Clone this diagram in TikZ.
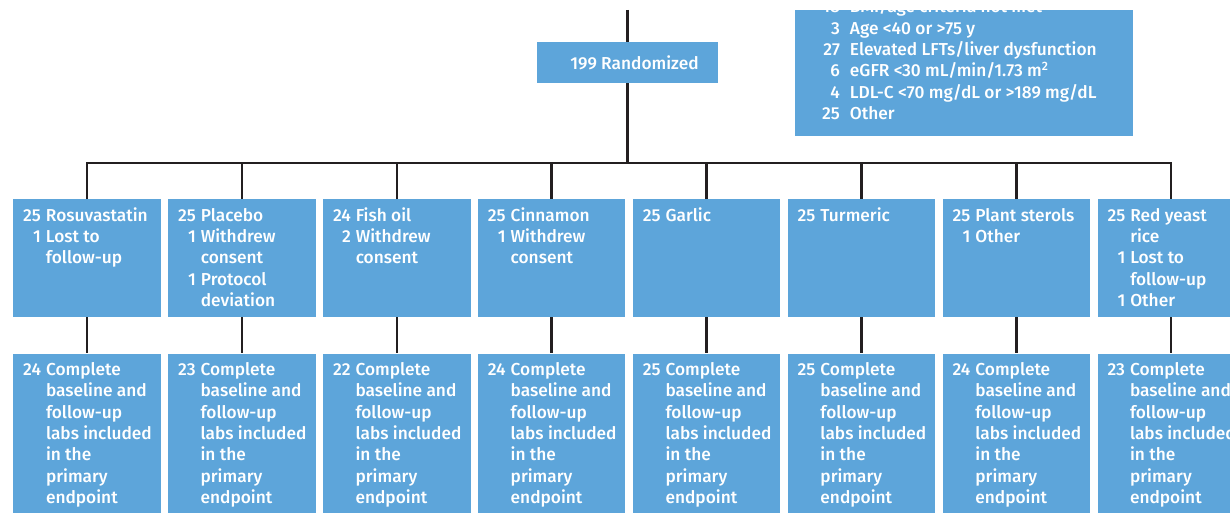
\documentclass[tikz,border=0pt]{standalone}
\usepackage{fontspec}
\setmainfont{Fira Sans}[UprightFont=* Medium]
\usetikzlibrary{positioning}
\definecolor{consortblue}{RGB}{93,165,218}
\definecolor{linegrey}{RGB}{35,31,32}
\newcommand{\armlist}[1]{\makebox[127.5pt][l]{\begin{tabular}[t]{@{}r@{\hspace{5pt}}l@{}}#1\end{tabular}}}

\begin{document}
\begin{tikzpicture}[
    x=1pt, y=-1pt,
    font=\fontsize{17.3}{21.3}\selectfont,
    box/.style={rectangle, fill=consortblue, text=white, inner sep=0pt},
    arm/.style={box, minimum width=147.5pt, inner xsep=10pt, inner ysep=7.1pt,
                text height=14.9pt, text depth=88.9pt},
    result/.style={arm, text depth=150pt},
    link/.style={line width=2.4pt, draw=linegrey},
    node distance=7pt
]
\useasboundingbox (0,0) rectangle (1230,513);
\clip (0,0) rectangle (1230,513);

% Randomization and exclusions
\coordinate (enroll) at (627.5,10);
\node[box, minimum width=181pt, minimum height=41pt] (rand) at (627.5,62.5)
    {\hspace*{14pt}199 Randomized};
\node[box, minimum width=338pt, minimum height=126pt, anchor=north west] (excl) at (795,10) {};
\node[anchor=north west, text=white, inner sep=0pt] (exclist)
    at ([xshift=27pt, yshift=12.2pt]excl.north west)
    {\begin{tabular}[t]{@{}r@{\hspace{10pt}}l@{}}
     18 & BMI/age criteria not met\\
     3 & Age <40 or >75 y\\
     27 & Elevated LFTs/liver dysfunction\\
     6 & eGFR <30 mL/min/1.73 m\textsuperscript{2}\\
     4 & LDL-C <70 mg/dL or >189 mg/dL\\
     25 & Other
     \end{tabular}};

% Allocated arms
\node[arm, anchor=north west] (a1) at (13,199)
    {\armlist{25 & Rosuvastatin\\ 1 & Lost to\\ & follow-up}};
\node[arm, right=of a1] (a2)
    {\armlist{25 & Placebo\\ 1 & Withdrew\\ & consent\\ 1 & Protocol\\ & deviation}};
\node[arm, right=of a2] (a3)
    {\armlist{24 & Fish oil\\ 2 & Withdrew\\ & consent}};
\node[arm, right=of a3] (a4)
    {\armlist{25 & Cinnamon\\ 1 & Withdrew\\ & consent}};
\node[arm, right=of a4] (a5) {\armlist{25 & Garlic}};
\node[arm, right=of a5] (a6) {\armlist{25 & Turmeric}};
\node[arm, right=of a6] (a7)
    {\armlist{25 & Plant sterols\\ 1 & Other}};
\node[arm, right=of a7] (a8)
    {\armlist{25 & Red yeast\\ & rice\\ 1 & Lost to\\ & follow-up\\ 1 & Other}};

% Analysed in the primary endpoint
\node[result, below=36pt of a1] (b1)
    {\armlist{24 & Complete\\ & baseline and\\ & follow-up\\ & labs included\\ & in the\\ & primary\\ & endpoint}};
\node[result, below=36pt of a2] (b2)
    {\armlist{23 & Complete\\ & baseline and\\ & follow-up\\ & labs included\\ & in the\\ & primary\\ & endpoint}};
\node[result, below=36pt of a3] (b3)
    {\armlist{22 & Complete\\ & baseline and\\ & follow-up\\ & labs included\\ & in the\\ & primary\\ & endpoint}};
\node[result, below=36pt of a4] (b4)
    {\armlist{24 & Complete\\ & baseline and\\ & follow-up\\ & labs included\\ & in the\\ & primary\\ & endpoint}};
\node[result, below=36pt of a5] (b5)
    {\armlist{25 & Complete\\ & baseline and\\ & follow-up\\ & labs included\\ & in the\\ & primary\\ & endpoint}};
\node[result, below=36pt of a6] (b6)
    {\armlist{25 & Complete\\ & baseline and\\ & follow-up\\ & labs included\\ & in the\\ & primary\\ & endpoint}};
\node[result, below=36pt of a7] (b7)
    {\armlist{24 & Complete\\ & baseline and\\ & follow-up\\ & labs included\\ & in the\\ & primary\\ & endpoint}};
\node[result, below=36pt of a8] (b8)
    {\armlist{23 & Complete\\ & baseline and\\ & follow-up\\ & labs included\\ & in the\\ & primary\\ & endpoint}};

% Connectors
\coordinate (bus) at (627.5,163);
\draw[link] (enroll) -- (rand.north);
\draw[link] (rand.south) -- (bus);
\draw[link] (a1.north) |- (bus) -| (a8.north);
\draw[link] (a2.north) -- (a2.north |- bus);
\draw[link] (a3.north) -- (a3.north |- bus);
\draw[link] (a4.north) -- (a4.north |- bus);
\draw[link] (a5.north) -- (a5.north |- bus);
\draw[link] (a6.north) -- (a6.north |- bus);
\draw[link] (a7.north) -- (a7.north |- bus);
\draw[link] (a1.south) -- (b1.north);
\draw[link] (a2.south) -- (b2.north);
\draw[link] (a3.south) -- (b3.north);
\draw[link] (a4.south) -- (b4.north);
\draw[link] (a5.south) -- (b5.north);
\draw[link] (a6.south) -- (b6.north);
\draw[link] (a7.south) -- (b7.north);
\draw[link] (a8.south) -- (b8.north);
\end{tikzpicture}
\end{document}
